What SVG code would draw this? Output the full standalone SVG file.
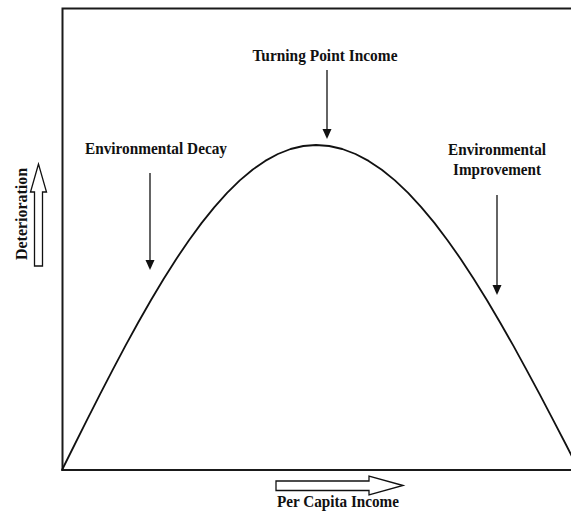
<svg xmlns="http://www.w3.org/2000/svg" width="571" height="512" viewBox="0 0 571 512">
<defs>
<style>
.lbl{font-family:"Liberation Serif","Times New Roman",serif;font-weight:bold;font-size:16.5px;fill:#111;}
.frame{stroke:#1a1a1a;stroke-width:2;fill:none;}
.curve{stroke:#111;stroke-width:1.8;fill:none;stroke-linejoin:round;stroke-linecap:round;}
.ptr{stroke:#111;stroke-width:1.3;fill:none;}
.head{fill:#111;stroke:none;}
.block{fill:#fff;stroke:#111;stroke-width:1.3;stroke-linejoin:miter;}
</style>
</defs>
<rect width="571" height="512" fill="#fff"/>
<g id="frame">
<path class="frame" d="M571,8.5 H62.5 V470 H571"/>
</g>
<g id="curve">
<path class="curve" d="M62,470 L74.7,444.5 L87.4,419.2 L100.1,394.1 L112.8,369.6 L125.5,345.6 L138.2,322.5 L150.9,300.2 L163.6,279 L176.3,258.9 L189,240.2 L201.7,222.9 L214.4,207.1 L227.1,192.9 L239.8,180.4 L252.5,169.7 L265.2,160.9 L277.9,154 L290.6,149 L303.3,146 L316,145 L329.2,146 L342.3,149 L355.5,154 L368.6,160.9 L381.8,169.7 L394.9,180.4 L408.1,192.9 L421.2,207.1 L434.4,222.9 L447.5,240.2 L460.7,258.9 L473.8,279 L487,300.2 L500.1,322.5 L513.3,345.6 L526.4,369.6 L539.6,394.1 L552.7,419.2 L565.9,444.5 L579,470"/>
</g>
<g id="turning-point">
<text class="lbl" x="325" y="61" text-anchor="middle" textLength="145" lengthAdjust="spacingAndGlyphs">Turning Point Income</text>
</g>
<g id="decay">
<text class="lbl" x="156" y="154" text-anchor="middle" textLength="142" lengthAdjust="spacingAndGlyphs">Environmental Decay</text>
</g>
<g id="improvement">
<text class="lbl" x="497" y="155" text-anchor="middle" textLength="98" lengthAdjust="spacingAndGlyphs">Environmental</text>
<text class="lbl" x="497" y="175" text-anchor="middle" textLength="88" lengthAdjust="spacingAndGlyphs">Improvement</text>
</g>
<g id="y-axis-label">
<polygon class="block" points="38.5,164 30.5,192 34.5,192 34.5,266 42.5,266 42.5,192 46.5,192"/>
<text class="lbl" x="0" y="0" transform="translate(26.5,214) rotate(-90)" text-anchor="middle" textLength="92" lengthAdjust="spacingAndGlyphs">Deterioration</text>
</g>
<g id="x-axis-label">
<polygon class="block" points="403,485.5 369,476 369,481 276,481 276,490.5 369,490.5 369,495"/>
<text class="lbl" x="338" y="507" text-anchor="middle" textLength="122" lengthAdjust="spacingAndGlyphs">Per Capita Income</text>
</g>
<g id="connectors">
<line class="ptr" x1="327" y1="70" x2="327" y2="130"/>
<polygon class="head" points="322.5,129 331.5,129 327,139"/>
<line class="ptr" x1="150" y1="173" x2="150" y2="261"/>
<polygon class="head" points="145.5,260 154.5,260 150,270"/>
<line class="ptr" x1="497" y1="195" x2="497" y2="286"/>
<polygon class="head" points="492.5,285 501.5,285 497,295"/>
</g>
</svg>
